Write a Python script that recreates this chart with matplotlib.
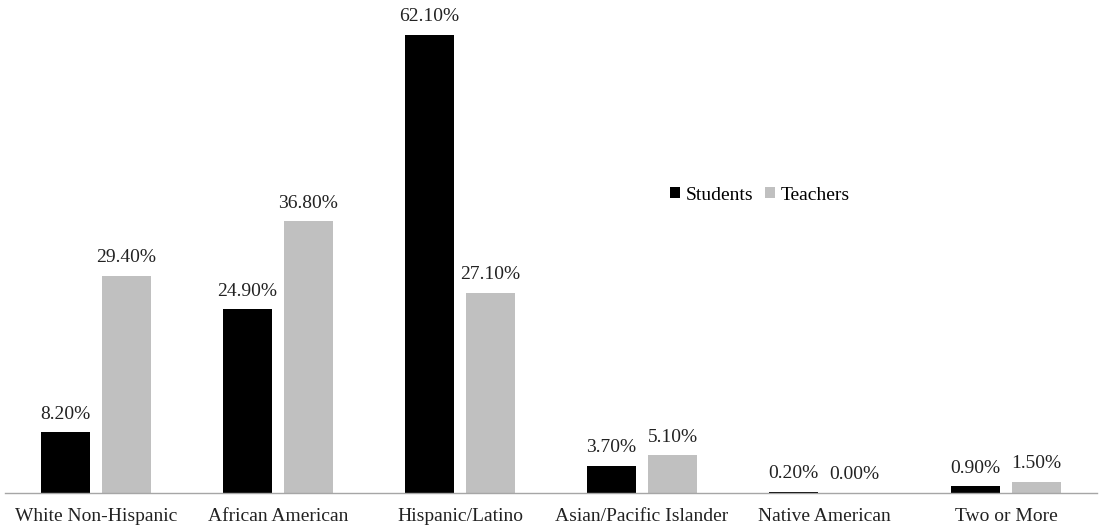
import matplotlib.pyplot as plt
import numpy as np

categories = ["White Non-Hispanic", "African American", "Hispanic/Latino",
              "Asian/Pacific Islander", "Native American", "Two or More"]
students = [8.2, 24.9, 62.1, 3.7, 0.2, 0.9]
teachers = [29.4, 36.8, 27.1, 5.1, 0.0, 1.5]

plt.rcParams["font.family"] = ["Liberation Serif", "DejaVu Serif"]
FS = 14

fig = plt.figure(figsize=(11.02, 5.26), dpi=100)
ax = fig.add_axes([5 / 1102, 33 / 526, 1092 / 1102, 487 / 526])

x = np.arange(len(categories))
width = 0.264
offset = (width + 0.071) / 2
b1 = ax.bar(x - offset, students, width, color="black", label="Students")
b2 = ax.bar(x + offset, teachers, width, color="#c0c0c0", label="Teachers")

for bars, vals in ((b1, students), (b2, teachers)):
    for rect, v in zip(bars, vals):
        ax.annotate(f"{v:.2f}%", (rect.get_x() + rect.get_width() / 2, v),
                    xytext=(0, 7), textcoords="offset points",
                    ha="center", va="bottom", fontsize=FS, color="#222222")

ax.set_xlim(-0.5, len(categories) - 0.5)
ax.set_ylim(0, 66)
ax.set_xticks(x)
ax.set_xticklabels(categories, fontsize=FS, color="#222222")
ax.tick_params(axis="x", length=0, pad=11)
ax.set_yticks([])
for side in ("top", "right", "left"):
    ax.spines[side].set_visible(False)
ax.spines["bottom"].set_color("#a6a6a6")
ax.spines["bottom"].set_linewidth(1.0)

ax.legend(loc="center", bbox_to_anchor=(755 / 1092, (493 - 195) / 487),
          ncol=2, frameon=False, fontsize=FS, handlelength=0.5,
          handleheight=0.5, handletextpad=0.3, columnspacing=0.6)

fig.savefig("out.png", dpi=100)
